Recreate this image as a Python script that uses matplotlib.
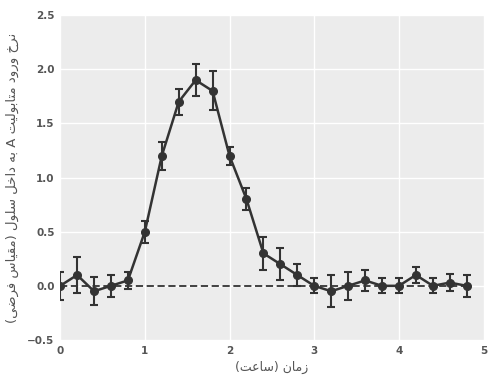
import unicodedata

import matplotlib
matplotlib.use("Agg")
import matplotlib.pyplot as plt
import numpy as np

# time points (hours) and measured uptake rate with error
time_h = [0.0, 0.2, 0.4, 0.6, 0.8, 1.0, 1.2, 1.4, 1.6, 1.8, 2.0, 2.2, 2.4,
          2.6, 2.8, 3.0, 3.2, 3.4, 3.6, 3.8, 4.0, 4.2, 4.4, 4.6, 4.8]
rate = [0.0, 0.1, -0.05, 0.0, 0.05, 0.5, 1.2, 1.7, 1.9, 1.8, 1.2, 0.8, 0.3,
        0.2, 0.1, 0.0, -0.05, 0.0, 0.05, 0.0, 0.0, 0.1, 0.0, 0.03, 0.0]
rate_err = [0.13, 0.17, 0.13, 0.1, 0.08, 0.1, 0.13, 0.12, 0.15, 0.18, 0.08,
            0.1, 0.15, 0.15, 0.1, 0.07, 0.15, 0.13, 0.1, 0.07, 0.07, 0.07,
            0.07, 0.08, 0.1]
baseline = [0.0, 0.0]

XLABEL = "زمان (ساعت)"
YLABEL = "نرخ ورود متابولیت A به داخل سلول (مقیاس فرضی)"

RIGHT_JOINING = set("اآأإدذرزژوؤة")
MIRROR = {"(": ")", ")": "("}


def _is_arabic(ch):
    return "\u0600" <= ch <= "\u06ff"


def _form(ch, suffix):
    try:
        return unicodedata.lookup(unicodedata.name(ch) + " " + suffix)
    except KeyError:
        return ch


def rtl(text):
    # minimal arabic shaping + reversal, matplotlib has no bidi support
    out = []
    for i, ch in enumerate(text):
        if not _is_arabic(ch):
            out.append(MIRROR.get(ch, ch))
            continue
        prev = text[i - 1] if i > 0 else ""
        nxt = text[i + 1] if i + 1 < len(text) else ""
        join_prev = bool(prev) and _is_arabic(prev) and prev not in RIGHT_JOINING
        join_next = ch not in RIGHT_JOINING and bool(nxt) and _is_arabic(nxt)
        if join_prev and join_next:
            out.append(_form(ch, "MEDIAL FORM"))
        elif join_prev:
            out.append(_form(ch, "FINAL FORM"))
        elif join_next:
            out.append(_form(ch, "INITIAL FORM"))
        else:
            out.append(_form(ch, "ISOLATED FORM"))
    return "".join(reversed(out))


fig = plt.figure(figsize=(4.89, 3.79), dpi=100)
ax = fig.add_axes([0.123, 0.103, 0.866, 0.857])
ax.set_facecolor("#ececec")

ax.plot([time_h[0], time_h[-1]], baseline, color="#333333", lw=1.3,
        dashes=(4, 2), zorder=2)
ax.errorbar(time_h, rate, yerr=rate_err, color="#333333", marker="o",
            markersize=5.5, lw=1.8, elinewidth=1.5, capsize=3, capthick=1.5,
            zorder=3)

ax.set_xlim(0, 5)
ax.set_ylim(-0.5, 2.5)
ax.set_xticks(np.arange(0, 6, 1))
ax.set_yticks(np.arange(-0.5, 2.6, 0.5))
ax.grid(color="white", lw=1.0)
ax.set_axisbelow(True)
for s in ax.spines.values():
    s.set_visible(False)
ax.tick_params(length=0, labelsize=7.5, labelcolor="#555555", pad=4)
for lbl in ax.get_xticklabels() + ax.get_yticklabels():
    lbl.set_fontweight("bold")

ax.set_xlabel(rtl(XLABEL), fontsize=9, color="#555555", labelpad=4,
              family="DejaVu Sans")
ax.set_ylabel(rtl(YLABEL), fontsize=9.5, color="#555555", labelpad=6,
              family="DejaVu Sans")

fig.savefig("out.png", dpi=100)
